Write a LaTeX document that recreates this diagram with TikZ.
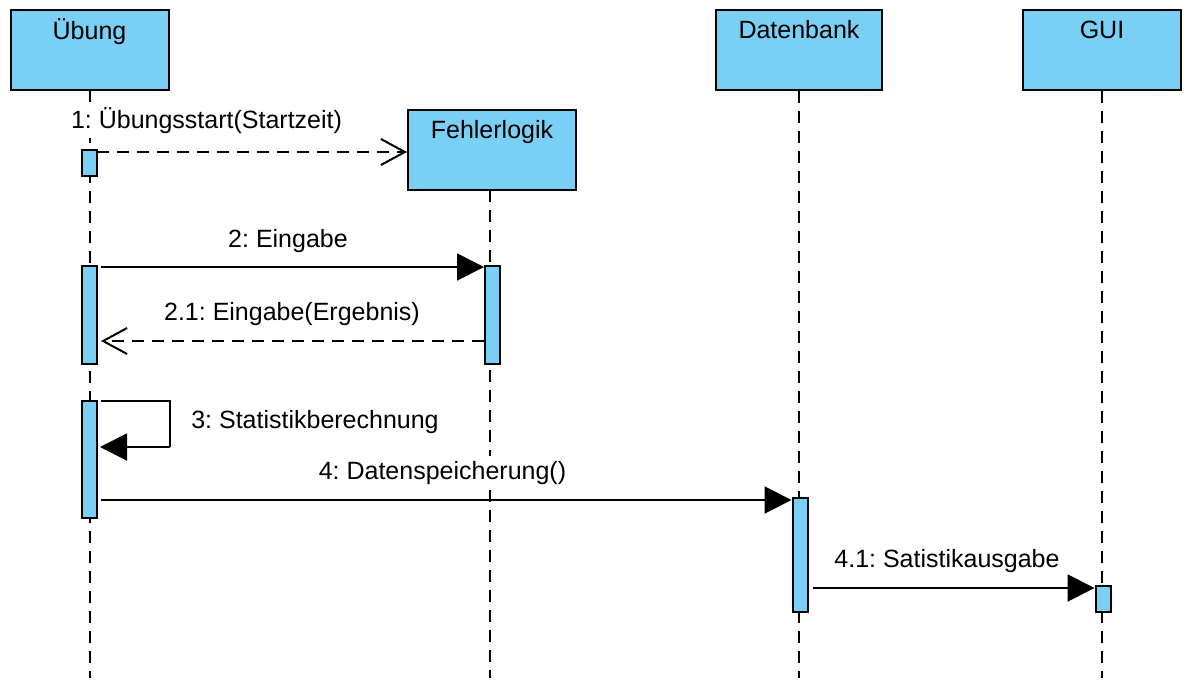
\documentclass[tikz,border=0pt]{standalone}
\usepackage{fontspec}
\setmainfont{Liberation Sans}
\usetikzlibrary{arrows.meta}
\definecolor{objblue}{HTML}{7ACFF4}
\tikzset{
  obj/.style={draw=black, fill=objblue, line width=2pt, minimum width=#1, minimum height=80pt, inner sep=0pt},
  objtxt/.style={anchor=base, inner sep=0pt, font=\fontsize{25}{30}\selectfont\frenchspacing},
  act/.style={draw=black, fill=objblue, line width=2pt, minimum width=15pt, inner sep=0pt},
  life/.style={line width=2pt, dash pattern=on 12pt off 8pt},
  msg/.style={line width=2pt, -{Triangle[length=27pt,width=27pt]}},
  ret/.style={line width=2pt, dash pattern=on 12pt off 8pt, -{Straight Barb[length=24pt,width=26pt,line width=2pt]}},
  lbl/.style={anchor=base, fill=white, inner xsep=2pt, inner ysep=5pt, font=\fontsize{25}{30}\selectfont\frenchspacing}
}
\begin{document}
\begin{tikzpicture}[x=1pt,y=-1pt]
\useasboundingbox (0,0) rectangle (1194,694);
% objects
\node[obj=158pt] (ub) at (90,50) {};
\node[obj=168pt] (fl) at (492,150) {};
\node[obj=166pt] (db) at (799,50) {};
\node[obj=158pt] (gui) at (1102,50) {};
\node[objtxt] (ubt) at (89.5,39) {Übung};
\node[objtxt] (flt) at (492,138) {Fehlerlogik};
\node[objtxt] (dbt) at (799,38) {Datenbank};
\node[objtxt] (guit) at (1102,38) {GUI};
% lifeline ends
\coordinate (ube) at (90,678);
\coordinate (fle) at (490,678);
\coordinate (dbe) at (799,678);
\coordinate (guie) at (1102,678);
\draw[life] (ub.south) -- (ube);
\draw[life] (490,190) -- (fle);
\draw[life] (db.south) -- (dbe);
\draw[life] (gui.south) -- (guie);
% activations
\node[act, minimum height=26pt] (a1) at (89.5,163) {};
\node[act, minimum height=98pt] (a2) at (89.5,315) {};
\node[act, minimum height=117pt] (a3) at (89.5,459.5) {};
\node[act, minimum height=98pt] (f1) at (492.5,315) {};
\node[act, minimum height=114pt] (d1) at (800,555) {};
\node[act, minimum height=26pt] (g1) at (1103,599) {};
% messages
\coordinate (m1s) at (97,152);
\draw[ret] (m1s) -- (fl.west |- m1s);
\node[lbl] (l1) at (206.5,128) {1: Übungsstart(Startzeit)};
\coordinate (m2s) at (101,267);
\draw[msg] (m2s) -- (f1.west |- m2s);
\node[lbl] (l2) at (288,247) {2: Eingabe};
\coordinate (m21s) at (f1.west |- 0,341);
\coordinate (m21e) at (101,341);
\draw[ret] (m21s) -- (m21e);
\node[lbl] (l21) at (292,320) {2.1: Eingabe(Ergebnis)};
\coordinate (s1) at (101,401);
\coordinate (s2) at (170,401);
\coordinate (s3) at (170,447);
\coordinate (s4) at (100,447);
\draw[line width=2pt] (s1) -- (s2) -- (s3);
\draw[msg] (s3) -- (s4);
\node[lbl] (l3) at (315,428) {3: Statistikberechnung};
\coordinate (m4s) at (101,500);
\draw[msg] (m4s) -- (d1.west |- m4s);
\node[lbl] (l4) at (442.5,479) {4: Datenspeicherung()};
\coordinate (m41s) at (813,588);
\draw[msg] (m41s) -- (g1.west |- m41s);
\node[lbl] (l41) at (947,567) {4.1: Satistikausgabe};
\end{tikzpicture}
\end{document}
